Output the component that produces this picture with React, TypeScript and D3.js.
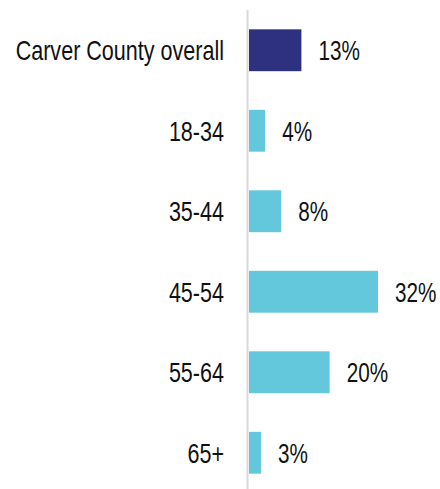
import React from 'react';
import * as d3 from 'd3';

const categories = ['Carver County overall', '18-34', '35-44', '45-54', '55-64', '65+'];
const values = [13, 4, 8, 32, 20, 3];
const highlight = ['Carver County overall'];

const width = 440;
const height = 489;
const baseX = 249;
const labelRight = 224;
const fontSize = 28;

const colors = { overall: '#2e3180', group: '#64c8dc' };

export default function App() {
    const y = d3.scaleBand<string>()
        .domain(categories)
        .range([10, 493])
        .paddingInner(0.48)
        .paddingOuter(0.24);

    const x = d3.scaleLinear()
        .domain([0, 32])
        .range([baseX, 378]);

    const font = '"Liberation Sans", Arial, sans-serif';

    return (
        <svg
            width={width}
            height={height}
            style={{ position: 'absolute', left: 0, top: 0, background: '#fff' }}
        >
            {categories.map((c, i) => {
                const cy = (y(c) ?? 0) + y.bandwidth() / 2;
                return (
                    <g key={c}>
                        <rect
                            x={x(0)}
                            y={y(c)}
                            width={x(values[i]) - x(0)}
                            height={y.bandwidth()}
                            fill={highlight.includes(c) ? colors.overall : colors.group}
                        />
                        <text
                            transform={`translate(${labelRight},${cy}) scale(0.77,1)`}
                            textAnchor="end"
                            dy="0.35em"
                            fontFamily={font}
                            fontSize={fontSize}
                            fill="#111"
                        >
                            {c}
                        </text>
                        <text
                            transform={`translate(${x(values[i]) + 17},${cy}) scale(0.74,1)`}
                            textAnchor="start"
                            dy="0.35em"
                            fontFamily={font}
                            fontSize={fontSize}
                            fill="#111"
                        >
                            {values[i]}%
                        </text>
                    </g>
                );
            })}
            {/* baseline axis */}
            <line x1={247.5} x2={247.5} y1={10} y2={height} stroke="#d9d9d9" strokeWidth={2} />
        </svg>
    );
}
